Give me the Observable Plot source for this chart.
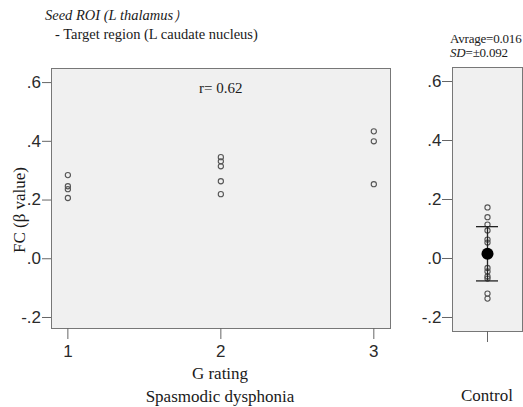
<!DOCTYPE html>
<html><head><meta charset="utf-8">
<script src="https://cdn.jsdelivr.net/npm/d3@7"></script>
<script src="https://cdn.jsdelivr.net/npm/@observablehq/plot@0.6"></script>
<style>
body{margin:0;background:#fff;}
#wrap{position:relative;width:523px;height:407px;overflow:hidden;font-family:"Liberation Serif","Times New Roman",serif;color:#1a1a1a;}
.t{position:absolute;white-space:nowrap;line-height:1;}
.c{transform:translateX(-50%);}
#p1,#p2{position:absolute;top:0;}
#p1{left:0;} #p2{left:410px;}
</style></head><body>
<div id="wrap">
  <div id="p1"></div><div id="p2"></div>
  <div class="t" style="left:45px;top:8px;font-size:14.5px;font-style:italic;">Seed ROI (L thalamus）</div>
  <div class="t" style="left:55px;top:27px;font-size:14.5px;">- Target region (L caudate nucleus)</div>
  <div class="t" style="left:450px;top:32px;font-size:13px;letter-spacing:-0.2px;">Avrage=0.016</div>
  <div class="t" style="left:450px;top:46px;font-size:13px;letter-spacing:-0.2px;"><i>SD</i>=±0.092</div>
  <div class="t c" style="left:220px;top:365px;font-size:17px;">G rating</div>
  <div class="t c" style="left:220px;top:388px;font-size:17px;">Spasmodic dysphonia</div>
  <div class="t c" style="left:487px;top:387px;font-size:17px;">Control</div>
  <div class="t" style="left:19px;top:210px;font-size:17px;transform:translate(-50%,-50%) rotate(-90deg);">FC (β value)</div>
</div>
<script>
// Spasmodic dysphonia group: G rating vs FC
const gRating = [1, 1, 1, 1, 2, 2, 2, 2, 2, 3, 3, 3];
const sdFC = [0.285, 0.247, 0.237, 0.207, 0.346, 0.332, 0.315, 0.264, 0.220, 0.434, 0.400, 0.254];
// Control group FC values
const controlFC = [0.173, 0.140, 0.115, 0.095, 0.064, 0.054, -0.032, -0.044, -0.061, -0.068, -0.119, -0.136];
const controlMean = 0.016;
const controlSD = 0.092;
const controlLabel = ["Control"];
const yTicks = [-0.2, 0, 0.2, 0.4, 0.6];
const xTicks = [1, 2, 3];
const rNote = [{x: 2, y: 0.58, text: "r= 0.62"}];

const fmt = d => d.toFixed(1).replace(/^(-?)0\./, "$1.");
const sdData = gRating.map((g, i) => ({g, v: sdFC[i]}));
const ctlData = controlFC.map(v => ({g: controlLabel[0], v}));
const barData = [{g: controlLabel[0], lo: controlMean - controlSD, hi: controlMean + controlSD, m: controlMean}];

const axisStyle = {fontFamily: "'Liberation Sans', Arial, sans-serif", fontSize: "17px", color: "#222", background: "transparent", overflow: "visible"};
const frameStroke = "#777";
const dotStroke = "#555";
const tickFont = 17;

const p1 = Plot.plot({
  width: 400, height: 345,
  marginLeft: 51, marginRight: 10, marginTop: 68, marginBottom: 17,
  x: {domain: [0.893, 3.109]},
  y: {domain: [-0.2375, 0.648]},
  style: axisStyle,
  marks: [
    Plot.frame({fill: "#f0f0f0", stroke: frameStroke}),
    Plot.axisY(yTicks, {tickFormat: fmt, tickSize: 9, tickPadding: 1.5, label: null, fontSize: tickFont, stroke: "#666", fill: "#2a2a2a"}),
    Plot.axisX(xTicks, {tickFormat: d => String(d), tickSize: 11, tickPadding: 5, label: null, fontSize: tickFont, stroke: "#666", fill: "#2a2a2a"}),
    Plot.dot(sdData, {x: "g", y: "v", r: 2.6, stroke: dotStroke, strokeWidth: 1.1, fill: "none"}),
    Plot.text(rNote, {x: "x", y: "y", text: "text", fontSize: 15, fontFamily: "'Liberation Serif', 'Times New Roman', serif", fill: "#1a1a1a"})
  ]
});
document.getElementById("p1").appendChild(p1);

const p2 = Plot.plot({
  width: 113, height: 345,
  marginLeft: 42, marginRight: 1, marginTop: 67, marginBottom: 14,
  x: {type: "band", domain: controlLabel, padding: 0},
  y: {domain: [-0.2475, 0.6475]},
  style: axisStyle,
  marks: [
    Plot.frame({fill: "#f0f0f0", stroke: frameStroke}),
    Plot.axisY(yTicks, {tickFormat: fmt, tickSize: 10, tickPadding: 1, label: null, fontSize: tickFont, stroke: "#666", fill: "#2a2a2a"}),
    Plot.axisX(controlLabel, {tickFormat: () => "", tickSize: 11, label: null, stroke: "#666"}),
    Plot.dot(ctlData, {x: "g", y: "v", r: 2.6, stroke: dotStroke, strokeWidth: 1.1, fill: "none"}),
    Plot.ruleX(barData, {x: "g", y1: "lo", y2: "hi", stroke: "#222", strokeWidth: 1.3}),
    Plot.tickY(barData, {x: "g", y: "lo", insetLeft: 24, insetRight: 24, stroke: "#222", strokeWidth: 1.3}),
    Plot.tickY(barData, {x: "g", y: "hi", insetLeft: 24, insetRight: 24, stroke: "#222", strokeWidth: 1.3}),
    Plot.dot(barData, {x: "g", y: "m", r: 6, fill: "#000", stroke: "none"})
  ]
});
document.getElementById("p2").appendChild(p2);
</script>
</body></html>
